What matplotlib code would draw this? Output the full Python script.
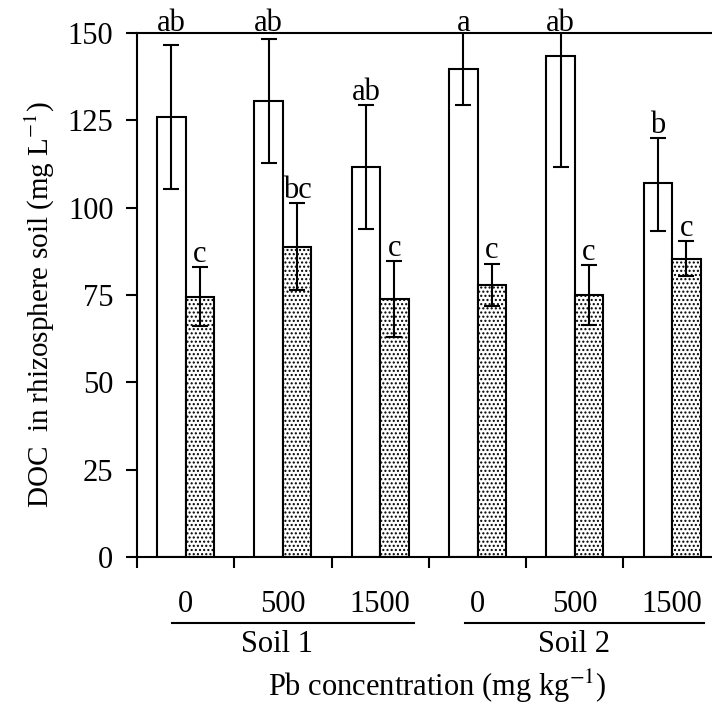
import numpy as np
import matplotlib
matplotlib.use('Agg')
import matplotlib.pyplot as plt
from matplotlib.transforms import blended_transform_factory

# === DATA ===
pb_levels = ["0", "500", "1500", "0", "500", "1500"]
soils = ["Soil 1", "Soil 2"]

white_mean = [126.0, 130.6, 111.7, 139.6, 143.5, 107.2]
white_err_lo = [20.6, 17.9, 17.8, 10.3, 31.8, 13.8]
white_err_hi = [20.6, 17.7, 17.7, 10.6, 11.0, 12.8]
white_labels = ["ab", "ab", "ab", "a", "ab", "b"]

dot_mean = [74.5, 88.8, 73.9, 77.9, 75.0, 85.4]
dot_err = [8.5, 12.5, 10.8, 6.1, 8.6, 5.0]
dot_labels = ["c", "bc", "c", "c", "c", "c"]

# === STYLE ===
plt.rcParams['font.family'] = ['Liberation Serif', 'DejaVu Serif']
plt.rcParams['mathtext.fontset'] = 'stix'
plt.rcParams['font.size'] = 22
plt.rcParams['hatch.color'] = '#555555'
plt.rcParams['hatch.linewidth'] = 1.0

fig = plt.figure(figsize=(7.12, 7.04), dpi=100)
ax = fig.add_axes([0.1924, 0.2088, 1.0 - 0.1924, 0.9531 - 0.2088])

x = np.arange(len(white_mean))
w = 0.293
ekw = dict(ecolor='black', elinewidth=1.5, capsize=5.5, capthick=1.5)

ax.bar(x - w / 2, white_mean, w, color='white', edgecolor='black', linewidth=1.5,
       yerr=[white_err_lo, white_err_hi], error_kw=ekw)
ax.bar(x + w / 2, dot_mean, w, color='white', edgecolor='black', linewidth=1.5,
       hatch='....', yerr=dot_err, error_kw=ekw)

# significance letters
for i in range(len(x)):
    cap = white_mean[i] + white_err_hi[i]
    top = cap + 1.5 if cap < 140 else 150.6
    ax.text(x[i] - w / 2, top, white_labels[i], ha='center', va='baseline', clip_on=False)
    ax.text(x[i] + w / 2, dot_mean[i] + dot_err[i] + 1.5, dot_labels[i],
            ha='center', va='baseline', clip_on=False)

ax.set_xlim(-0.5, 5.41)
ax.set_ylim(0, 150)
ax.set_yticks([0, 25, 50, 75, 100, 125, 150])
ax.set_xticks(np.arange(-0.5, 5.5, 1.0))
ax.set_xticklabels([])
ax.tick_params(axis='both', direction='out', length=8, width=1.5, pad=9)
ax.spines['right'].set_visible(False)
for s in ['left', 'bottom', 'top']:
    ax.spines[s].set_linewidth(1.5)

ax.set_ylabel("DOC  in rhizosphere soil (mg L$^{-1}$)", fontsize=21)
ax.yaxis.set_label_coords((57 - 137) / (712 - 137), (557 - 305) / (557 - 33))

# group labels below the axis
trans = blended_transform_factory(ax.transData, fig.transFigure)
for i, lab in enumerate(pb_levels):
    ax.text(x[i], 1 - 605 / 704, lab, transform=trans, ha='center', va='center')

ax.plot([-0.144, 2.346], [1 - 623 / 704] * 2, color='black', lw=1.5,
        transform=trans, clip_on=False)
ax.plot([2.87, 5.33], [1 - 623 / 704] * 2, color='black', lw=1.5,
        transform=trans, clip_on=False)
ax.text(0.94, 1 - 645 / 704, soils[0], transform=trans, ha='center', va='center')
ax.text(3.99, 1 - 645 / 704, soils[1], transform=trans, ha='center', va='center')

fig.text(437 / 712, 1 - 686 / 704, "Pb concentration (mg kg$^{-1}$)", ha='center', va='center')

fig.savefig("out.png", dpi=100)
